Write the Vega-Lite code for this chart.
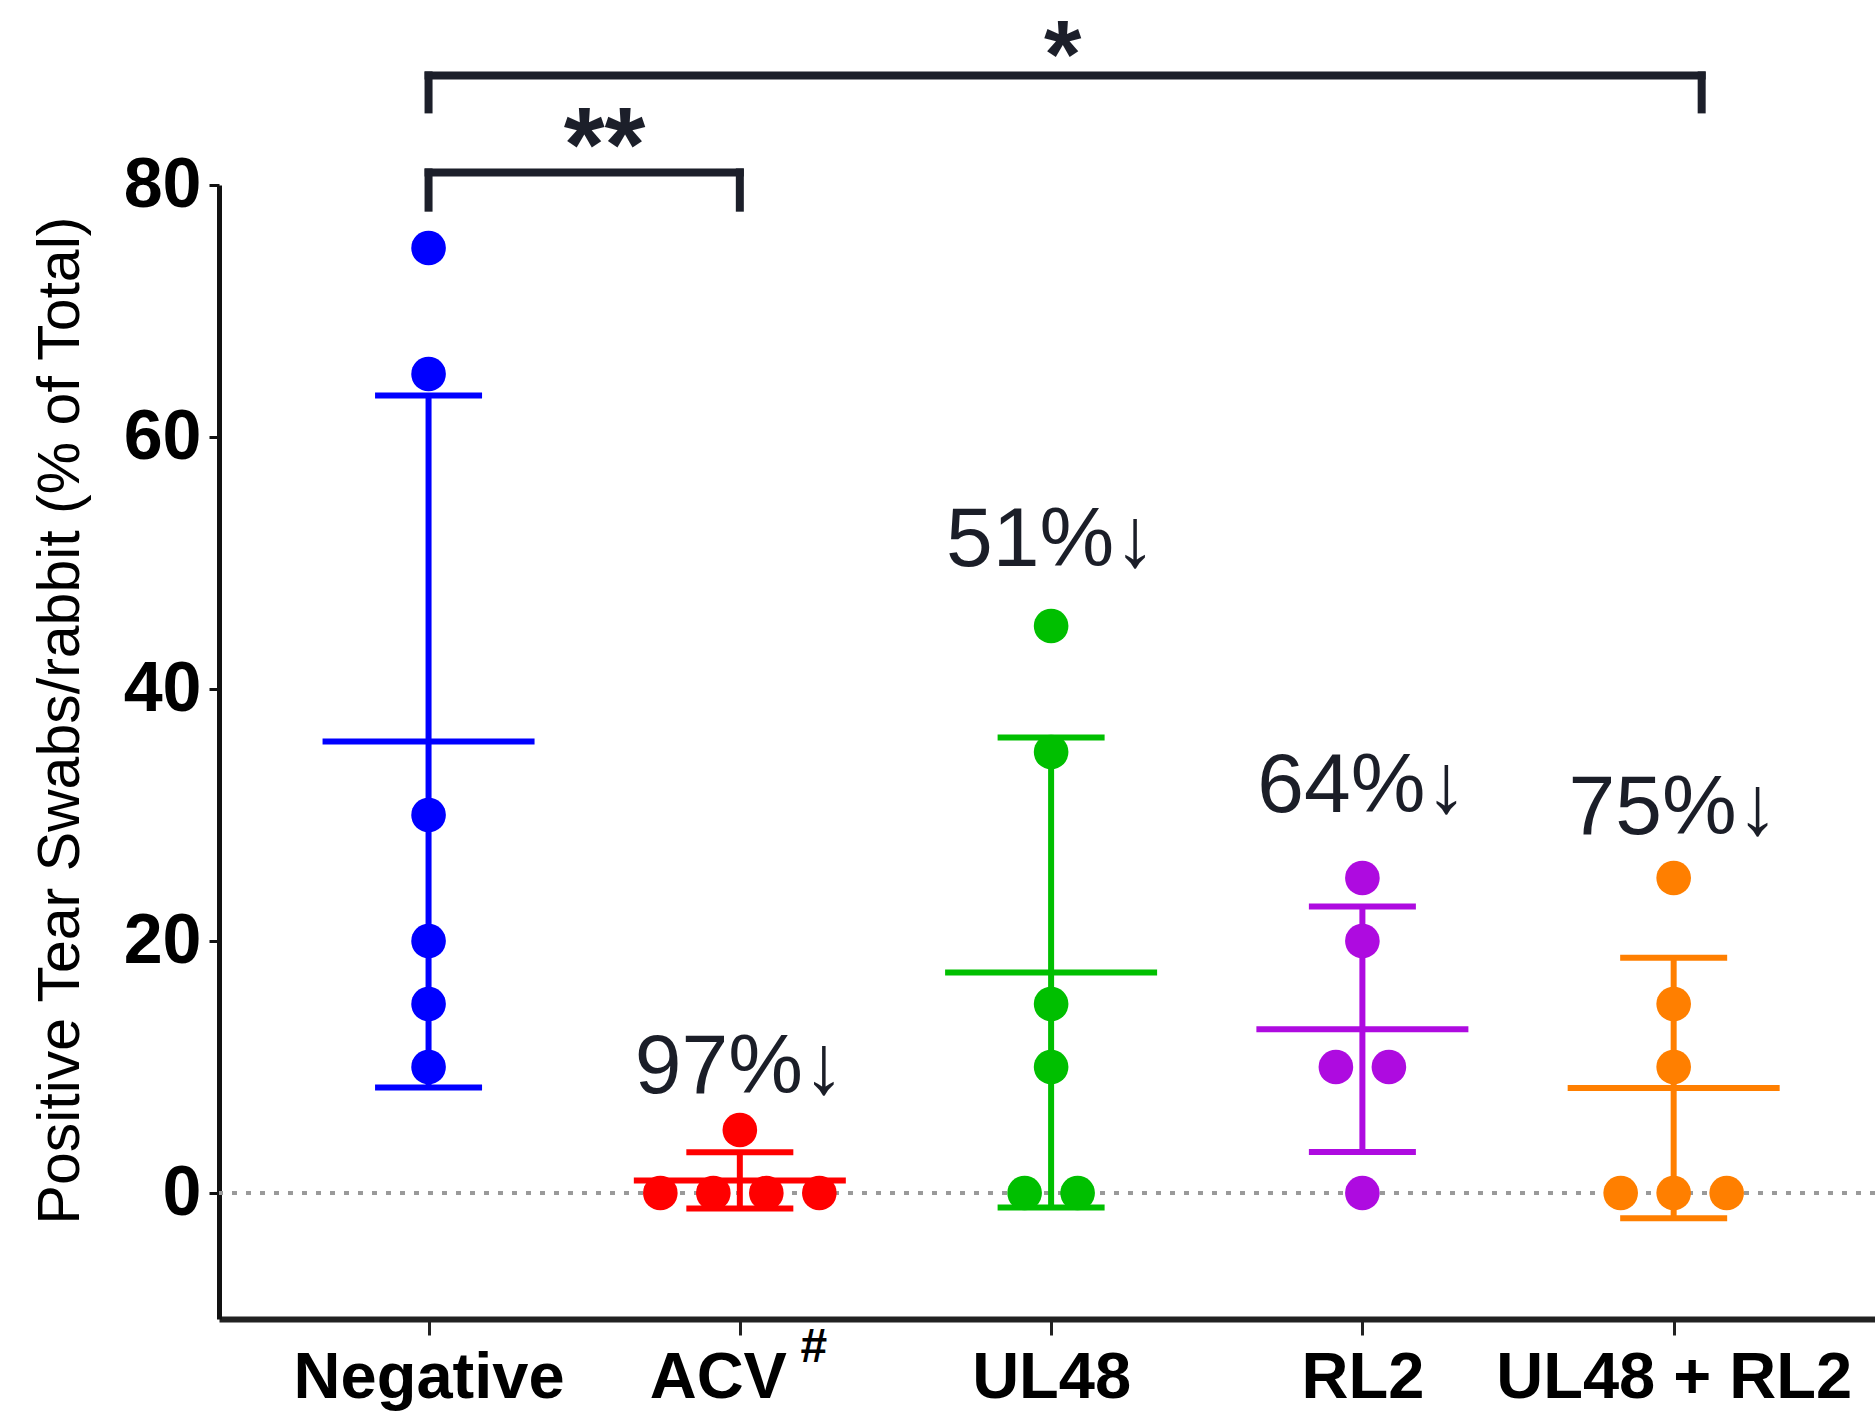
{
  "$schema": "https://vega.github.io/schema/vega-lite/v6.json",
  "width": 1656,
  "height": 1134,
  "autosize": {"type": "none"},
  "padding": {"left": 219, "top": 185, "right": 0, "bottom": 92},
  "background": "white",
  "config": {
    "view": {"stroke": null},
    "font": "Liberation Sans",
    "axisX": {"labelFontSize": 65, "labelFontWeight": "bold", "labelColor": "#000000", "labelAngle": 0, "labelPadding": 11, "labelLimit": 0, "tickSize": 16, "tickWidth": 3, "tickColor": "#222222", "domainWidth": 6, "domainColor": "#222222", "grid": false},
    "axisY": {"labelFontSize": 70, "labelFontWeight": "bold", "labelColor": "#000000", "labelPadding": 8, "labelLimit": 0, "tickSize": 10, "tickWidth": 3, "tickColor": "#111111", "domainWidth": 5, "domainColor": "#111111", "grid": false, "titleFontSize": 59, "titleFontWeight": "normal", "titleColor": "#000000", "titleX": -129, "titleY": 535, "titleBaseline": "bottom"}
  },
  "datasets": {
    "points": [
      {"group": "Negative", "value": 75, "slot": 0},
      {"group": "Negative", "value": 65, "slot": 0},
      {"group": "Negative", "value": 30, "slot": 0},
      {"group": "Negative", "value": 20, "slot": 0},
      {"group": "Negative", "value": 15, "slot": 0},
      {"group": "Negative", "value": 10, "slot": 0},
      {"group": "ACV", "value": 0, "slot": -1.5},
      {"group": "ACV", "value": 0, "slot": -0.5},
      {"group": "ACV", "value": 0, "slot": 0.5},
      {"group": "ACV", "value": 0, "slot": 1.5},
      {"group": "ACV", "value": 5, "slot": 0},
      {"group": "UL48", "value": 45, "slot": 0},
      {"group": "UL48", "value": 35, "slot": 0},
      {"group": "UL48", "value": 15, "slot": 0},
      {"group": "UL48", "value": 10, "slot": 0},
      {"group": "UL48", "value": 0, "slot": -0.5},
      {"group": "UL48", "value": 0, "slot": 0.5},
      {"group": "RL2", "value": 25, "slot": 0},
      {"group": "RL2", "value": 20, "slot": 0},
      {"group": "RL2", "value": 10, "slot": -0.5},
      {"group": "RL2", "value": 10, "slot": 0.5},
      {"group": "RL2", "value": 0, "slot": 0},
      {"group": "UL48 + RL2", "value": 25, "slot": 0},
      {"group": "UL48 + RL2", "value": 15, "slot": 0},
      {"group": "UL48 + RL2", "value": 10, "slot": 0},
      {"group": "UL48 + RL2", "value": 0, "slot": -1},
      {"group": "UL48 + RL2", "value": 0, "slot": 0},
      {"group": "UL48 + RL2", "value": 0, "slot": 1}
    ],
    "labels": [
      {"group": "ACV", "text": "97%↓", "value": 7.9},
      {"group": "UL48", "text": "51%↓", "value": 49.8},
      {"group": "RL2", "text": "64%↓", "value": 30.2},
      {"group": "UL48 + RL2", "text": "75%↓", "value": 28.5}
    ],
    "brackets": [
      {"x1": "Negative", "x2": "ACV", "y": 81, "ylow": 78.2, "stars": "**", "sy": 80.3},
      {"x1": "Negative", "x2": "UL48 + RL2", "y": 88.7, "ylow": 86, "stars": "*", "sy": 87.8}
    ],
    "baseline": [{"group": "Negative", "value": 0}],
    "note": [{"group": "ACV", "mark": "#", "value": -12.3}]
  },
  "layer": [
    {
      "data": {"name": "baseline"},
      "mark": {"type": "rule", "color": "#9a9a9a", "strokeWidth": 4, "strokeDash": [5, 9]},
      "encoding": {
        "y": {"field": "value", "type": "quantitative", "scale": {"domain": [-10, 80], "nice": false, "zero": false}, "axis": {"values": [0, 20, 40, 60, 80], "title": "Positive Tear Swabs/rabbit (% of Total)"}}
      }
    },
    {
      "data": {"name": "points"},
      "mark": {"type": "errorbar", "extent": "stdev", "ticks": {"opacity": 1}, "rule": {"opacity": 1}, "size": 107, "thickness": 6},
      "encoding": {
        "x": {"field": "group", "type": "nominal", "scale": {"type": "point", "domain": ["Negative", "ACV", "UL48", "RL2", "UL48 + RL2"], "padding": 0.66, "align": 0.51}, "axis": {"title": null, "labelOffset": {"condition": {"test": "datum.value === 'ACV'", "value": -22}, "value": 0}}},
        "y": {"field": "value", "type": "quantitative", "scale": {"domain": [-10, 80], "nice": false, "zero": false}, "axis": {"values": [0, 20, 40, 60, 80], "title": "Positive Tear Swabs/rabbit (% of Total)"}},
        "color": {"field": "group", "type": "nominal", "scale": {"domain": ["Negative", "ACV", "UL48", "RL2", "UL48 + RL2"], "range": ["#0000ff", "#ff0000", "#00bf00", "#ae0be0", "#ff7f00"]}, "legend": null}
      }
    },
    {
      "data": {"name": "points"},
      "mark": {"type": "tick", "size": 212, "thickness": 6, "opacity": 1},
      "encoding": {
        "x": {"field": "group", "type": "nominal", "axis": {"title": null, "labelOffset": {"condition": {"test": "datum.value === 'ACV'", "value": -22}, "value": 0}}},
        "y": {"aggregate": "mean", "field": "value", "type": "quantitative", "scale": {"domain": [-10, 80], "nice": false, "zero": false}, "axis": {"values": [0, 20, 40, 60, 80], "title": "Positive Tear Swabs/rabbit (% of Total)"}},
        "color": {"field": "group", "type": "nominal", "legend": null}
      }
    },
    {
      "data": {"name": "points"},
      "mark": {"type": "circle", "size": 1200, "opacity": 1},
      "encoding": {
        "x": {"field": "group", "type": "nominal", "axis": {"title": null, "labelOffset": {"condition": {"test": "datum.value === 'ACV'", "value": -22}, "value": 0}}},
        "xOffset": {"field": "slot", "type": "quantitative", "scale": {"domain": [-1, 1], "range": [-53, 53]}},
        "y": {"field": "value", "type": "quantitative", "scale": {"domain": [-10, 80], "nice": false, "zero": false}, "axis": {"values": [0, 20, 40, 60, 80], "title": "Positive Tear Swabs/rabbit (% of Total)"}},
        "color": {"field": "group", "type": "nominal", "legend": null}
      }
    },
    {
      "data": {"name": "labels"},
      "mark": {"type": "text", "fontSize": 84, "align": "center", "baseline": "alphabetic", "color": "#1b1e28"},
      "encoding": {
        "x": {"field": "group", "type": "nominal", "axis": {"title": null, "labelOffset": {"condition": {"test": "datum.value === 'ACV'", "value": -22}, "value": 0}}},
        "y": {"field": "value", "type": "quantitative", "scale": {"domain": [-10, 80], "nice": false, "zero": false}, "axis": {"values": [0, 20, 40, 60, 80], "title": "Positive Tear Swabs/rabbit (% of Total)"}},
        "text": {"field": "text"}
      }
    },
    {
      "data": {"name": "brackets"},
      "transform": [{"filter": "datum.x2 == 'ACV'"}],
      "mark": {"type": "rule", "color": "#1c1f2a", "strokeWidth": 8, "strokeCap": "square"},
      "encoding": {
        "x": {"field": "x1", "type": "nominal", "axis": {"title": null, "labelOffset": {"condition": {"test": "datum.value === 'ACV'", "value": -22}, "value": 0}}},
        "x2": {"field": "x2"},
        "y": {"field": "y", "type": "quantitative", "scale": {"domain": [-10, 80], "nice": false, "zero": false}, "axis": {"values": [0, 20, 40, 60, 80], "title": "Positive Tear Swabs/rabbit (% of Total)"}}
      }
    },
    {
      "data": {"name": "brackets"},
      "transform": [{"filter": "datum.x2 != 'ACV'"}],
      "mark": {"type": "rule", "color": "#1c1f2a", "strokeWidth": 8, "strokeCap": "square", "x2Offset": 28},
      "encoding": {
        "x": {"field": "x1", "type": "nominal", "axis": {"title": null, "labelOffset": {"condition": {"test": "datum.value === 'ACV'", "value": -22}, "value": 0}}},
        "x2": {"field": "x2"},
        "y": {"field": "y", "type": "quantitative", "scale": {"domain": [-10, 80], "nice": false, "zero": false}, "axis": {"values": [0, 20, 40, 60, 80], "title": "Positive Tear Swabs/rabbit (% of Total)"}}
      }
    },
    {
      "data": {"name": "brackets"},
      "mark": {"type": "rule", "color": "#1c1f2a", "strokeWidth": 8, "strokeCap": "square"},
      "encoding": {
        "x": {"field": "x1", "type": "nominal", "axis": {"title": null, "labelOffset": {"condition": {"test": "datum.value === 'ACV'", "value": -22}, "value": 0}}},
        "y": {"field": "y", "type": "quantitative", "scale": {"domain": [-10, 80], "nice": false, "zero": false}, "axis": {"values": [0, 20, 40, 60, 80], "title": "Positive Tear Swabs/rabbit (% of Total)"}},
        "y2": {"field": "ylow"}
      }
    },
    {
      "data": {"name": "brackets"},
      "transform": [{"filter": "datum.x2 == 'ACV'"}],
      "mark": {"type": "rule", "color": "#1c1f2a", "strokeWidth": 8, "strokeCap": "square"},
      "encoding": {
        "x": {"field": "x2", "type": "nominal", "axis": {"title": null, "labelOffset": {"condition": {"test": "datum.value === 'ACV'", "value": -22}, "value": 0}}},
        "y": {"field": "y", "type": "quantitative", "scale": {"domain": [-10, 80], "nice": false, "zero": false}, "axis": {"values": [0, 20, 40, 60, 80], "title": "Positive Tear Swabs/rabbit (% of Total)"}},
        "y2": {"field": "ylow"}
      }
    },
    {
      "data": {"name": "brackets"},
      "transform": [{"filter": "datum.x2 != 'ACV'"}],
      "mark": {"type": "rule", "color": "#1c1f2a", "strokeWidth": 8, "strokeCap": "square", "xOffset": 28},
      "encoding": {
        "x": {"field": "x2", "type": "nominal", "axis": {"title": null, "labelOffset": {"condition": {"test": "datum.value === 'ACV'", "value": -22}, "value": 0}}},
        "y": {"field": "y", "type": "quantitative", "scale": {"domain": [-10, 80], "nice": false, "zero": false}, "axis": {"values": [0, 20, 40, 60, 80], "title": "Positive Tear Swabs/rabbit (% of Total)"}},
        "y2": {"field": "ylow"}
      }
    },
    {
      "data": {"name": "brackets"},
      "transform": [{"filter": "datum.x2 == 'ACV'"}],
      "mark": {"type": "text", "fontSize": 105, "fontWeight": "bold", "align": "center", "baseline": "alphabetic", "color": "#1c1f2a", "dx": 176},
      "encoding": {
        "x": {"field": "x1", "type": "nominal", "axis": {"title": null, "labelOffset": {"condition": {"test": "datum.value === 'ACV'", "value": -22}, "value": 0}}},
        "y": {"field": "sy", "type": "quantitative", "scale": {"domain": [-10, 80], "nice": false, "zero": false}, "axis": {"values": [0, 20, 40, 60, 80], "title": "Positive Tear Swabs/rabbit (% of Total)"}},
        "text": {"field": "stars"}
      }
    },
    {
      "data": {"name": "brackets"},
      "transform": [{"filter": "datum.x2 != 'ACV'"}],
      "mark": {"type": "text", "fontSize": 96, "fontWeight": "bold", "align": "center", "baseline": "alphabetic", "color": "#1c1f2a", "dx": 634},
      "encoding": {
        "x": {"field": "x1", "type": "nominal", "axis": {"title": null, "labelOffset": {"condition": {"test": "datum.value === 'ACV'", "value": -22}, "value": 0}}},
        "y": {"field": "sy", "type": "quantitative", "scale": {"domain": [-10, 80], "nice": false, "zero": false}, "axis": {"values": [0, 20, 40, 60, 80], "title": "Positive Tear Swabs/rabbit (% of Total)"}},
        "text": {"field": "stars"}
      }
    },
    {
      "data": {"name": "note"},
      "mark": {"type": "text", "fontSize": 48, "fontWeight": "bold", "align": "center", "baseline": "middle", "color": "#000000", "dx": 74},
      "encoding": {
        "x": {"field": "group", "type": "nominal", "axis": {"title": null, "labelOffset": {"condition": {"test": "datum.value === 'ACV'", "value": -22}, "value": 0}}},
        "y": {"field": "value", "type": "quantitative", "scale": {"domain": [-10, 80], "nice": false, "zero": false}, "axis": {"values": [0, 20, 40, 60, 80], "title": "Positive Tear Swabs/rabbit (% of Total)"}},
        "text": {"field": "mark"}
      }
    }
  ]
}
